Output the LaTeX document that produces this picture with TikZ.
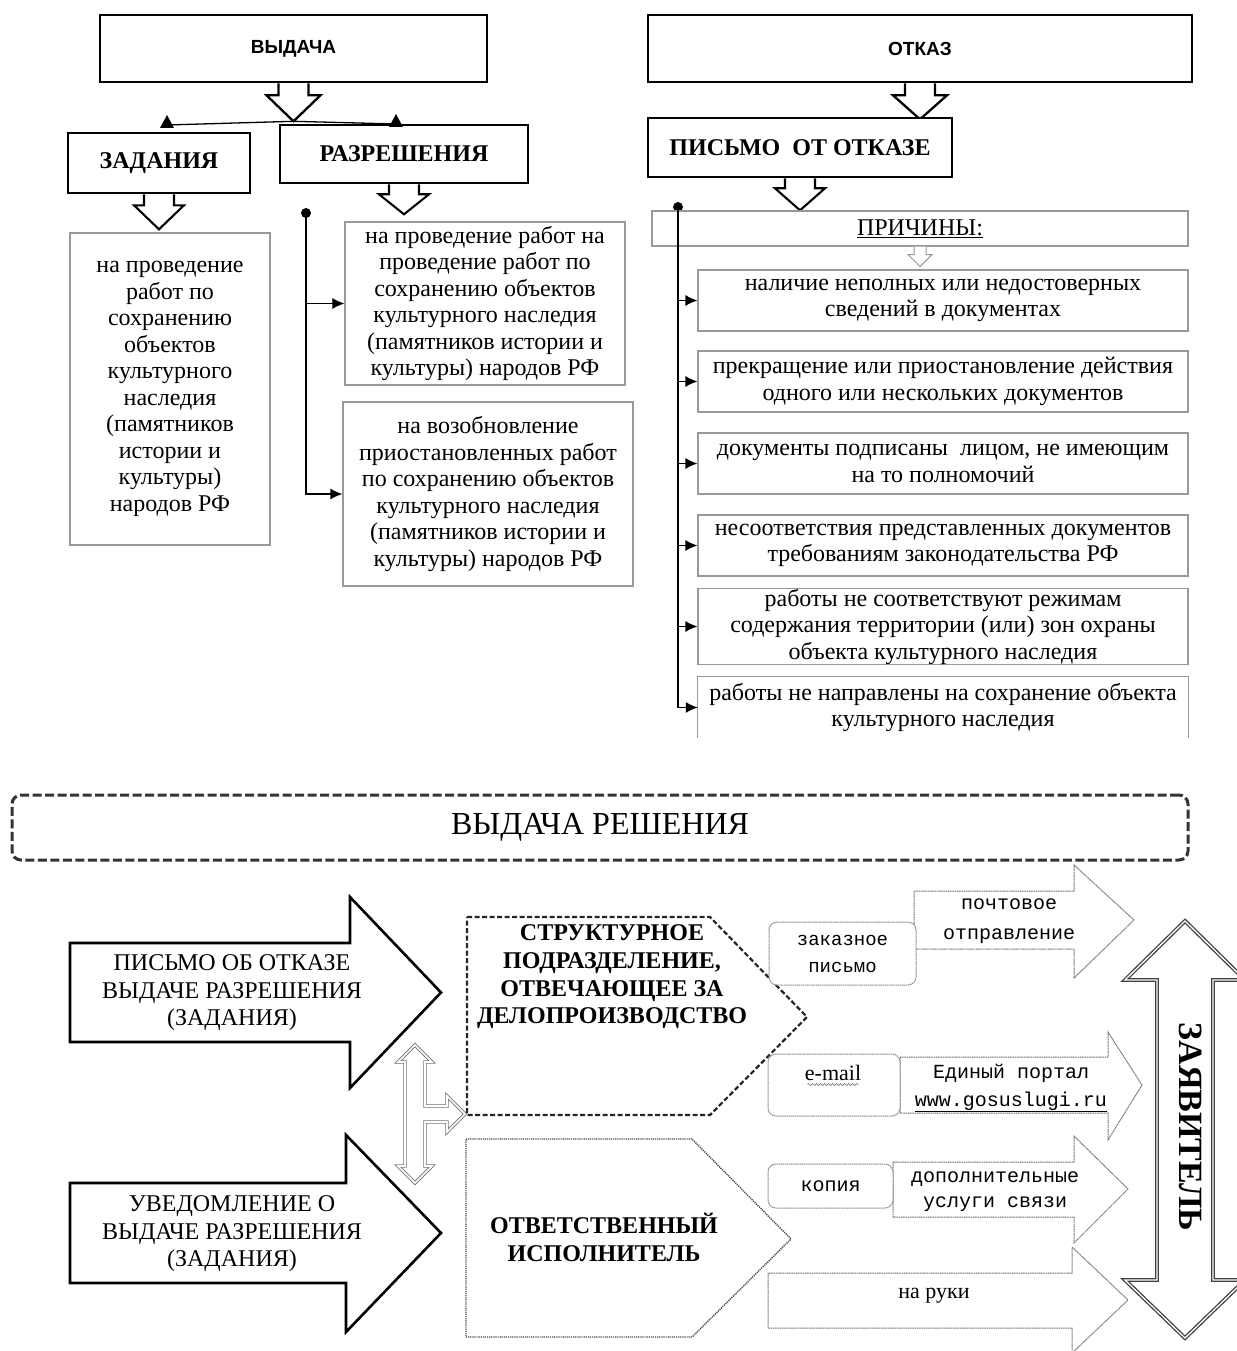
\documentclass[tikz,border=0pt]{standalone}
\usepackage{fontspec}
\setmainfont{Liberation Serif}
\newfontfamily\sansf{Liberation Sans}
\newfontfamily\monof{Liberation Mono}
\usetikzlibrary{calc,arrows.meta,decorations.pathmorphing}
% hollow block arrow pointing down: #1 start, #2 shaft half width, #3 head half width, #4 shaft length, #5 total length, #6 style
\newcommand\blkdown[6]{%
  \draw[#6] ($(#1)+(-#2,0)$) -- ($(#1)+(-#2,#4)$) -- ($(#1)+(-#3,#4)$) -- ($(#1)+(0,#5)$) -- ($(#1)+(#3,#4)$) -- ($(#1)+(#2,#4)$) -- ($(#1)+(#2,0)$);}
\tikzset{
 heavybox/.style={draw, line width=2.6pt, fill=white, inner sep=0pt},
 lightbox/.style={draw=black!40, line width=1.1pt, fill=white, inner sep=0pt},
 body/.style={font=\fontsize{24}{26.5}\selectfont, align=center},
 capb/.style={font=\bfseries\fontsize{24}{28}\selectfont, align=center},
 hollow/.style={draw, line width=2.3pt, fill=white, line join=miter},
 conn/.style={line width=1.4pt, -{Latex[length=12pt,width=11pt]}},
 bigarrow/.style={draw, line width=2.6pt, fill=white, line join=miter},
 farrow/.style={draw=black!55, line width=1pt, dash pattern=on 1.2pt off 0.6pt, fill=white, line join=miter},
 rbox/.style={draw=black!45, line width=1pt, rounded corners=8pt, fill=white, inner sep=0pt, dash pattern=on 1.5pt off 0.6pt},
 monot/.style={font=\monof\fontsize{20}{27}\selectfont, align=center},
}
\begin{document}
\begin{tikzpicture}[x=1pt,y=-1pt]
\fill[white] (0,0) rectangle (1236,1351);
\useasboundingbox (0,0) rectangle (1236,1351);

% ---------------- top left
\node[heavybox, minimum width=387, minimum height=67, font=\sansf\bfseries\fontsize{19}{22}\selectfont] (vyd) at (293.5,48.5) {ВЫДАЧА};
\blkdown{vyd.south}{15}{27}{12}{38}{hollow}
\coordinate (vt) at ($(vyd.south)+(0,38)$);
\coordinate (zl) at (167,125);
\coordinate (zr) at (396,124);
\draw[line width=1.3pt] (zl) -- (vt) -- (zr);
\node[heavybox, minimum width=182, minimum height=60, capb] (zad) at (159,163) {ЗАДАНИЯ};
\node[heavybox, minimum width=248, minimum height=58, capb] (raz) at (404,154) {РАЗРЕШЕНИЯ};
\fill (zl) ++(-7,3) -- ++(14,0) -- ++(-7,-13) -- cycle;
\fill (zr) ++(-7,3) -- ++(14,0) -- ++(-7,-13) -- cycle;
\blkdown{zad.south}{15}{25}{11}{35}{hollow, line width=2.1pt}
\blkdown{raz.south}{15}{25}{10}{30}{hollow, line width=2.1pt}

\node[lightbox, minimum width=200, minimum height=312, body] (zt) at (170,389) {на проведение\\работ по\\сохранению\\объектов\\культурного\\наследия\\(памятников\\истории и\\культуры)\\народов РФ};
\node[lightbox, minimum width=280, minimum height=163, body] (ra) at (485,303.5) {на проведение работ на\\проведение работ по\\сохранению объектов\\культурного наследия\\(памятников истории и\\культуры) народов РФ};
\node[lightbox, minimum width=290, minimum height=184, body] (rb) at (488,494) {на возобновление\\приостановленных работ\\по сохранению объектов\\культурного наследия\\(памятников истории и\\культуры) народов РФ};
\coordinate (d1) at (306,213);
\fill (d1) circle (5);
\draw[conn] (d1) |- (rb.west);
\draw[conn] (d1|-ra.west) -- (ra.west);

% ---------------- top right
\node[heavybox, minimum width=544, minimum height=67, font=\sansf\bfseries\fontsize{19}{22}\selectfont] (otk) at (920,48.5) {ОТКАЗ};
\blkdown{otk.south}{15}{27}{12}{36}{hollow}
\node[heavybox, minimum width=304, minimum height=59, capb] (pis) at (800,147.5) {ПИСЬМО\ \ ОТ ОТКАЗЕ};
\blkdown{pis.south}{15}{25}{10}{32}{hollow, line width=2.1pt}
\coordinate (d2) at (678,207);
\fill (d2) circle (5);
\node[lightbox, minimum width=536, minimum height=35, font=\fontsize{24}{26}\selectfont] (pri) at (920,228.5) {\underline{ПРИЧИНЫ:}};
\blkdown{pri.south}{6}{12}{8}{20}{draw=black!40, line width=1pt, fill=white}

\node[lightbox, minimum width=490, minimum height=61, body] (c1) at (943,300.5) {наличие неполных или недостоверных\\сведений в документах};
\node[lightbox, minimum width=490, minimum height=61, body] (c2) at (943,381.5) {прекращение или приостановление действия\\одного или нескольких документов};
\node[lightbox, minimum width=490, minimum height=61, body] (c3) at (943,463.5) {документы подписаны\ \ лицом, не имеющим\\на то полномочий};
\node[lightbox, minimum width=490, minimum height=61, body] (c4) at (943,545.5) {несоответствия представленных документов\\требованиям законодательства РФ};
\node[lightbox, minimum width=490, minimum height=61, body] (c5) at (943,626.5) {работы не соответствуют режимам\\содержания территории (или) зон охраны\\объекта культурного наследия};
\node[minimum width=490, minimum height=61, body, inner sep=0pt] (c6) at (943,707.5) {работы не направлены на сохранение объекта\\культурного наследия};
\draw[draw=black!40, line width=1.1pt] (c6.south west) -- (c6.north west) -- (c6.north east) -- (c6.south east);
\draw[conn] (d2) |- (c6.west);
\draw[conn] (d2|-c1.west) -- (c1.west);
\draw[conn] (d2|-c2.west) -- (c2.west);
\draw[conn] (d2|-c3.west) -- (c3.west);
\draw[conn] (d2|-c4.west) -- (c4.west);
\draw[conn] (d2|-c5.west) -- (c5.west);

% ---------------- bottom
\node[draw=black!80, line width=3pt, dash pattern=on 9pt off 3.5pt, rounded corners=9pt, minimum width=1176, minimum height=65, inner sep=0pt, font=\fontsize{32}{34}\selectfont] (vr) at (600,827.5) {ВЫДАЧА РЕШЕНИЯ};

\draw[bigarrow] (70,943) -- (350,943) -- (350,897) -- (441,992.5) -- (350,1088) -- (350,1042) -- (70,1042) -- cycle;
\node[font=\fontsize{24}{27.5}\selectfont, align=center] (a1) at (232,993) {ПИСЬМО ОБ ОТКАЗЕ\\ВЫДАЧЕ РАЗРЕШЕНИЯ\\(ЗАДАНИЯ)};
\draw[bigarrow] (70,1183) -- (346,1183) -- (346,1135) -- (441,1233) -- (346,1332) -- (346,1283) -- (70,1283) -- cycle;
\node[font=\fontsize{24}{27.5}\selectfont, align=center] (a2) at (232,1234) {УВЕДОМЛЕНИЕ О\\ВЫДАЧЕ РАЗРЕШЕНИЯ\\(ЗАДАНИЯ)};

\draw[draw=black!85, line width=2.2pt, dash pattern=on 5pt off 2.5pt, fill=white] (467,917) -- (710,917) -- (807,1017) -- (710,1115) -- (467,1115) -- cycle;
\node[capb, font=\bfseries\fontsize{24}{27.7}\selectfont] (p1) at (612,977) {СТРУКТУРНОЕ\\ПОДРАЗДЕЛЕНИЕ,\\ОТВЕЧАЮЩЕЕ ЗА\\ДЕЛОПРОИЗВОДСТВО};
\draw[draw=black!70, line width=1.4pt, dash pattern=on 1.2pt off 0.9pt, fill=white] (466,1139) -- (692,1139) -- (791,1239) -- (692,1337) -- (466,1337) -- cycle;
\node[capb] (p2) at (604,1237) {ОТВЕТСТВЕННЫЙ\\ИСПОЛНИТЕЛЬ};

\draw[draw=black!55, double=white, double distance=1.6pt, line width=0.9pt, fill=white, line join=miter] (415,1045) -- (432,1062) -- (425,1062) -- (425,1106) -- (447,1106) -- (447,1096) -- (465,1114) -- (447,1132) -- (447,1122) -- (425,1122) -- (425,1166) -- (432,1166) -- (415,1183) -- (398,1166) -- (405,1166) -- (405,1062) -- (398,1062) -- cycle;

% right channels
\draw[farrow] (914,949) -- (914,891) -- (1074,891) -- (1074,865) -- (1134,920) -- (1074,978) -- (1074,949) -- cycle;
\node[monot, font=\monof\fontsize{20}{30}\selectfont] (pt) at (1009,921) {почтовое\\отправление};
\node[rbox, minimum width=147, minimum height=63, monot, font=\monof\fontsize{19}{27}\selectfont] (zp) at (842.5,953.5) {заказное\\письмо};

\draw[farrow] (900,1113) -- (900,1057) -- (1108,1057) -- (1108,1032) -- (1142,1085) -- (1108,1140) -- (1108,1113) -- cycle;
\node[monot, font=\monof\fontsize{20}{28}\selectfont] (ep) at (1011,1088) {Единый портал\\\underline{www.gosuslugi.ru}};
\node[rbox, minimum width=132, minimum height=62] (em) at (834,1085) {};
\node[font=\fontsize{22}{24}\selectfont] (emt) at (833,1073) {e-mail};
\draw[black!50, line width=0.6pt, decorate, decoration={snake, amplitude=1pt, segment length=4pt}] ($(emt.base west)+(6,4)$) -- ($(emt.base east)+(-6,4)$);

\draw[farrow] (893,1217) -- (893,1162) -- (1074,1162) -- (1074,1136) -- (1128,1189) -- (1074,1243) -- (1074,1217) -- cycle;
\node[monot, font=\monof\fontsize{20}{25}\selectfont] (du) at (995,1192) {дополнительные\\услуги связи};
\node[rbox, minimum width=125, minimum height=44, monot] (kp) at (830.5,1186) {копия};

\draw[farrow] (768,1328) -- (768,1273) -- (1072,1273) -- (1072,1247) -- (1128,1300) -- (1072,1353) -- (1072,1328) -- cycle;
\node[font=\fontsize{22}{24}\selectfont] (nr) at (934,1296) {на руки};

\draw[draw=black!75, double=white, double distance=1.3pt, line width=1.3pt, fill=white, line join=miter] (1185,921) -- (1245,980) -- (1213,980) -- (1213,1280) -- (1245,1280) -- (1185,1338) -- (1125,1280) -- (1157,1280) -- (1157,980) -- (1125,980) -- cycle;
\node[rotate=-90, font=\bfseries\fontsize{34}{36}\selectfont] (zv) at (1191,1127) {ЗАЯВИТЕЛЬ};
\end{tikzpicture}
\end{document}
